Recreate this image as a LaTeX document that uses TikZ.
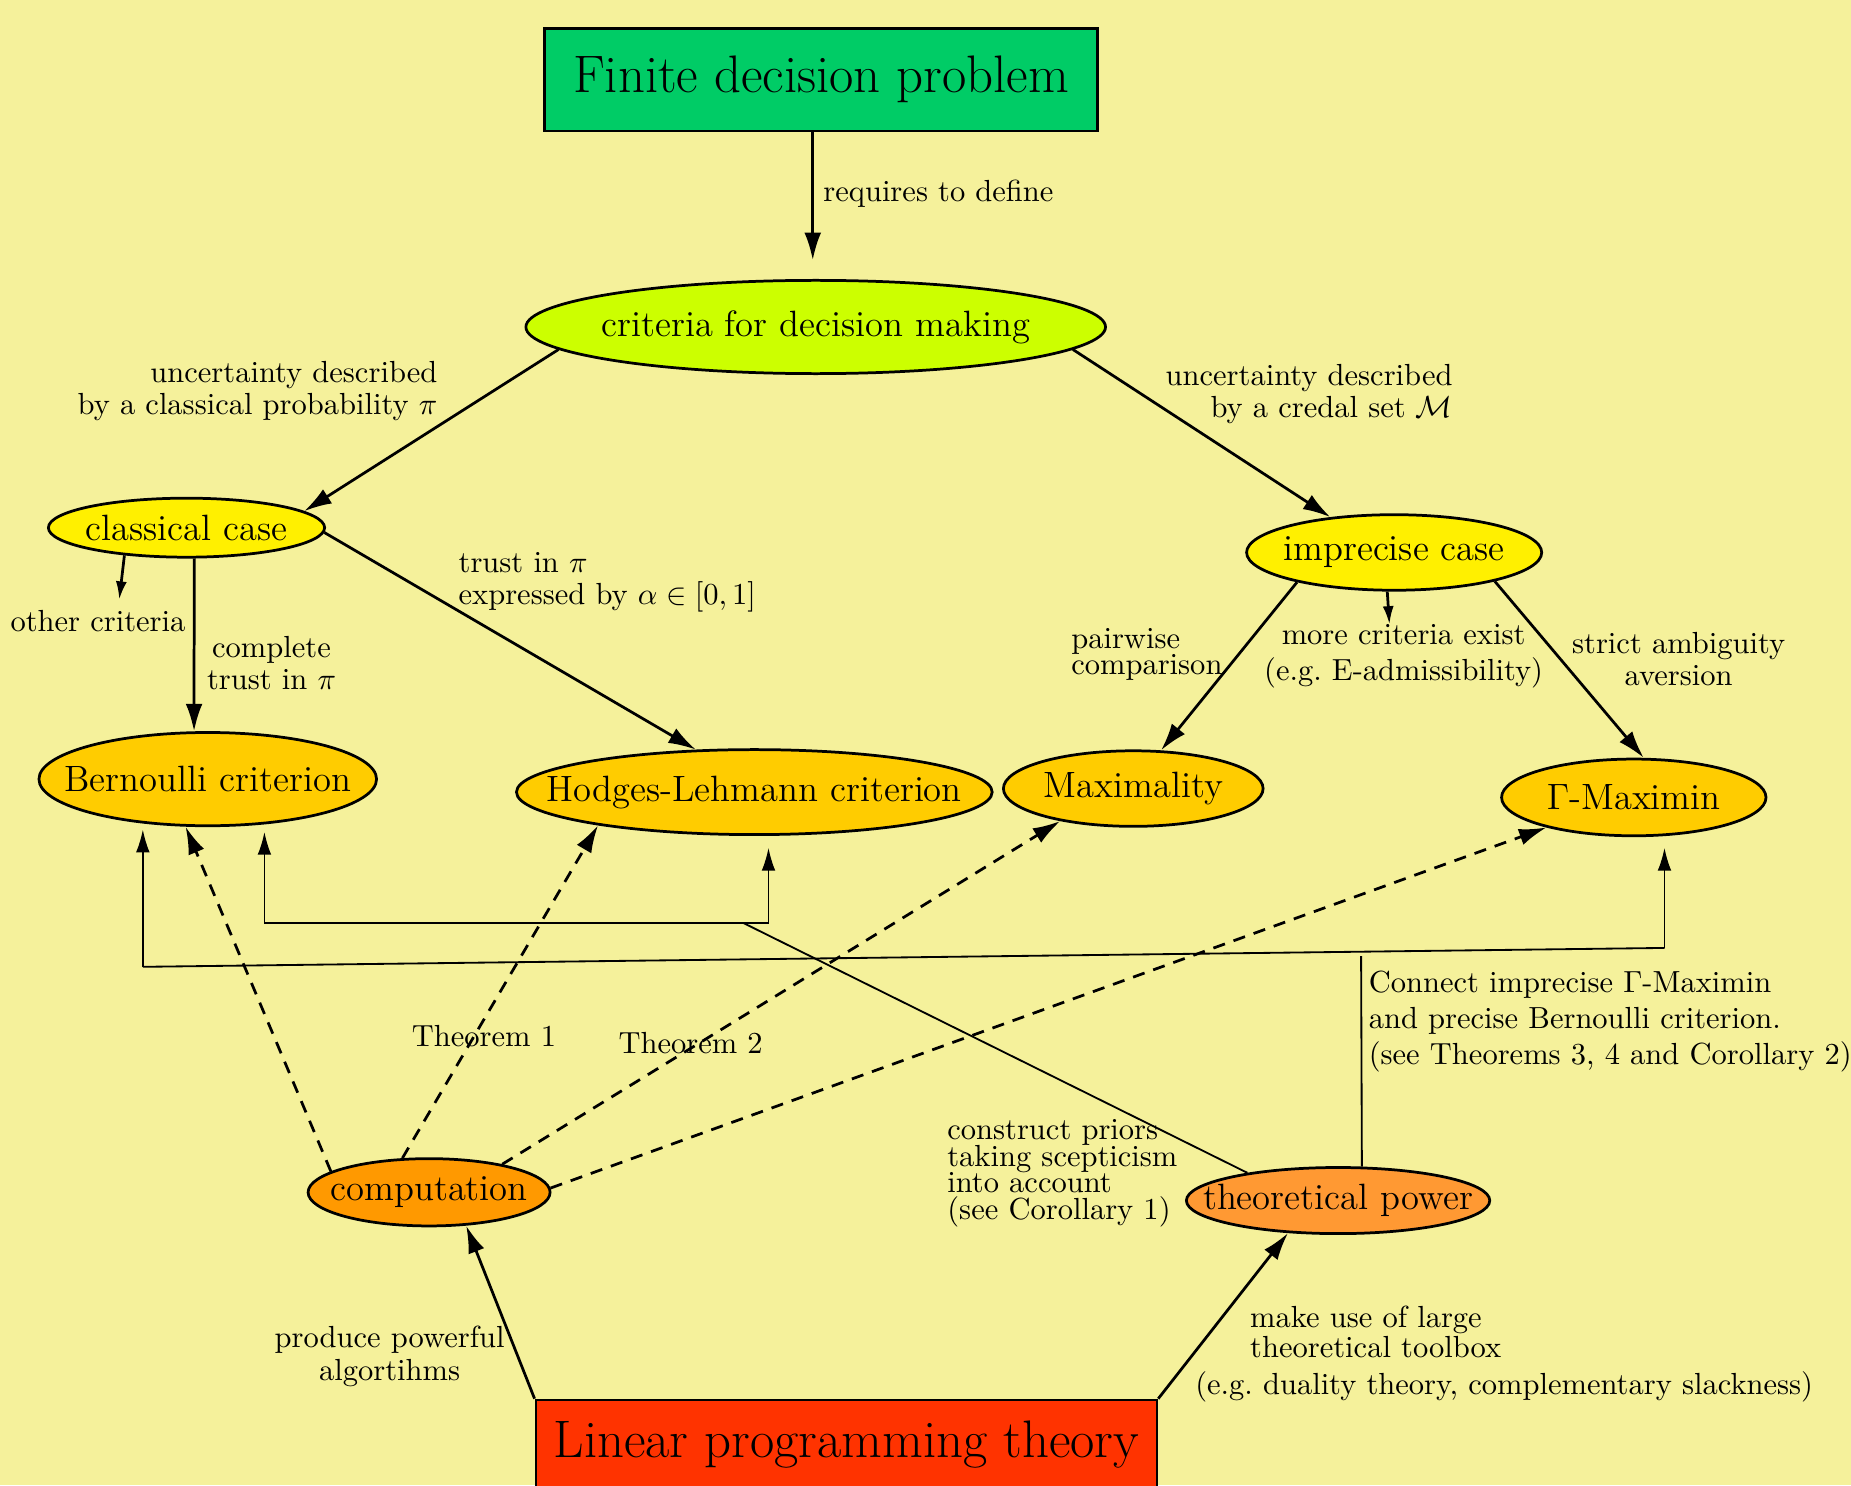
\documentclass[tikz,border=0pt]{standalone}
\usepackage{amsmath,amssymb}
\usepackage{fontspec}
\usetikzlibrary{arrows.meta,shapes.geometric}
\definecolor{bgkhaki}{HTML}{F5F19B}
\definecolor{problemgreen}{HTML}{00CC66}
\definecolor{criterialime}{HTML}{CCFF00}
\definecolor{caseyellow}{HTML}{FFF000}
\definecolor{critorange}{HTML}{FFCC00}
\definecolor{comporange}{HTML}{FF9900}
\definecolor{theoorange}{HTML}{FF9933}
\definecolor{lpred}{HTML}{FF3300}
\newlength\dpx
\setlength\dpx{0.0136cm}
\newcommand\lblfont[1]{\fontsize{10}{#1}\selectfont\lineskiplimit -5pt\relax}

\begin{document}
\begin{tikzpicture}[x=0.0136cm,y=-0.0136cm,
    box/.style={draw,line width=0.9pt,rectangle,inner sep=0pt,font=\fontsize{17.3}{20}\selectfont},
    ell/.style={draw,line width=0.9pt,ellipse,inner sep=0pt,font=\fontsize{12}{14}\selectfont},
    edge/.style={line width=0.9pt,-{Latex[length=9pt,width=5.5pt]}},
    smalledge/.style={line width=0.9pt,-{Latex[length=6pt,width=3.6pt]}},
    link/.style={line width=0.6pt},
    linkarrow/.style={line width=0.6pt,-{Latex[length=7.5pt,width=4.5pt]}},
    dashedge/.style={line width=0.9pt,dash pattern=on 4pt off 3pt,-{Latex[length=9pt,width=5.5pt]}},
    lbl/.style={inner sep=0pt,font=\lblfont{10.5}}]
    \fill[bgkhaki] (0,0) rectangle (1568,1258);
    \useasboundingbox (0,0) rectangle (1568,1258);
    % nodes
    \node[box,fill=problemgreen,minimum width=469\dpx,minimum height=87\dpx] (finite) at (695.5,67.5) {Finite decision problem};
    \node[ell,fill=criterialime,minimum width=491\dpx,minimum height=79\dpx] (criteria) at (691,277) {\makebox[0pt]{criteria for decision making}};
    \node[ell,fill=caseyellow,minimum width=234\dpx,minimum height=50\dpx] (classical) at (158,447) {\makebox[0pt]{classical case}};
    \node[ell,fill=caseyellow,minimum width=250\dpx,minimum height=64\dpx] (imprecise) at (1181,468) {\makebox[0pt]{imprecise case}};
    \node[ell,fill=critorange,minimum width=286\dpx,minimum height=79\dpx] (bernoulli) at (176,660) {\makebox[0pt]{Bernoulli criterion}};
    \node[ell,fill=critorange,minimum width=403\dpx,minimum height=72\dpx] (hodges) at (639,671) {\makebox[0pt]{Hodges-Lehmann criterion}};
    \node[ell,fill=critorange,minimum width=220\dpx,minimum height=64\dpx] (maximality) at (960,668) {\makebox[0pt]{Maximality}};
    \node[ell,fill=critorange,minimum width=224\dpx,minimum height=65\dpx] (gmaximin) at (1384,675.5) {\makebox[0pt]{$\Gamma$-Maximin}};
    \node[ell,fill=comporange,minimum width=205\dpx,minimum height=57\dpx] (computation) at (363.5,1010) {\makebox[0pt]{computation}};
    \node[ell,fill=theoorange,minimum width=257\dpx,minimum height=56\dpx] (theoretical) at (1133.5,1017) {\makebox[0pt]{theoretical power}};
    \node[box,fill=lpred,minimum width=526\dpx,minimum height=76\dpx] (linear) at (717,1224) {Linear programming theory};
    % free ends and bends
    \coordinate (othertip) at (101,508);
    \coordinate (moretip) at (1177,529);
    \coordinate (hjoin) at (630,782);
    \coordinate (hleft) at (224,782);
    \coordinate (hright) at (651,782);
    \coordinate (sjoin) at (1153,810);
    \coordinate (sleft) at (121,819);
    \coordinate (sright) at (1410,803);
    % edges
    \draw[edge,shorten >=16\dpx] ([xshift=-7\dpx]finite.south) -- ([xshift=-7\dpx]finite.south |- criteria.north);
    \draw[edge] (criteria.185) -- (classical.8);
    \draw[edge] (criteria.-5) -- (imprecise.151);
    \draw[smalledge] (classical.204) -- (othertip);
    \draw[edge] (classical.-76) -- (bernoulli.106.5);
    \draw[edge] (classical.-2) -- (hodges.144);
    \draw[edge] (imprecise.197) -- (maximality.54);
    \draw[smalledge] (imprecise.260) -- (moretip);
    \draw[edge] (imprecise.-16.5) -- (gmaximin.76);
    \draw[dashedge] (computation.168) -- (bernoulli.245);
    \draw[dashedge] (computation.128) -- (hodges.192);
    \draw[dashedge] (computation.21) -- (maximality.204);
    \draw[dashedge] (computation.2) -- (gmaximin.199);
    \draw[link] (theoretical.163) -- (hjoin);
    \draw[link] (hleft) -- (hright);
    \draw[linkarrow,shorten >=4\dpx] (hleft) -- (hleft |- bernoulli.south);
    \draw[linkarrow,shorten >=10\dpx] (hright) -- (hright |- hodges.south);
    \draw[link] (theoretical.55) -- (sjoin);
    \draw[link] (sleft) -- (sright);
    \draw[linkarrow,shorten >=2\dpx] (sleft) -- (sleft |- bernoulli.south);
    \draw[linkarrow,shorten >=9\dpx] (sright) -- (sright |- gmaximin.south);
    \draw[edge] (linear.north west) -- (computation.-42);
    \draw[edge] (linear.north east) -- (theoretical.213);
    % labels
    \node[lbl,anchor=west] (lrequires) at (697,164) {requires to define};
    \node[lbl,anchor=east,align=right] (lclassical) at (371,331) {uncertainty described\\by a classical probability $\pi$};
    \node[lbl,anchor=east,align=right] (lcredal) at (1231,334) {uncertainty described\\by a credal set $\mathcal{M}$};
    \node[lbl] (lother) at (83,526) {other criteria};
    \node[lbl,align=center] (lcomplete) at (230,562) {complete\\trust in $\pi$};
    \node[lbl,anchor=west,align=left] (ltrust) at (388,493) {trust in $\pi$\\expressed by $\alpha \in [0,1]$};
    \node[lbl,anchor=west,align=left,font=\lblfont{8.5}] (lpairwise) at (907,554) {pairwise\\comparison};
    \node[lbl,align=center,font=\lblfont{11.6}] (lmore) at (1189,556) {more criteria exist\\(e.g.\ E-admissibility)};
    \node[lbl,align=center] (lstrict) at (1422,558) {strict ambiguity\\aversion};
    \node[lbl] (lthmone) at (410,878) {Theorem 1};
    \node[lbl] (lthmtwo) at (585,883.5) {Theorem 2};
    \node[lbl,anchor=west,align=left,font=\lblfont{8.7}] (lpriors) at (802,994) {construct priors\\taking scepticism\\into account\\(see Corollary 1)};
    \node[lbl,anchor=west,align=left,font=\lblfont{11.8}] (lconnect) at (1159,865) {Connect imprecise $\Gamma$-Maximin\\and precise Bernoulli criterion.\\(see Theorems 3, 4 and Corollary 2)};
    \node[lbl,align=center] (lproduce) at (330,1149) {produce powerful\\algortihms};
    \node[lbl,anchor=west,align=left,font=\lblfont{9.8}] (ltoolbox) at (1012,1147) {\hspace*{18pt}make use of large\\\hspace*{18pt}theoretical toolbox\\[2.3pt](e.g.\ duality theory, complementary slackness)};
\end{tikzpicture}
\end{document}
